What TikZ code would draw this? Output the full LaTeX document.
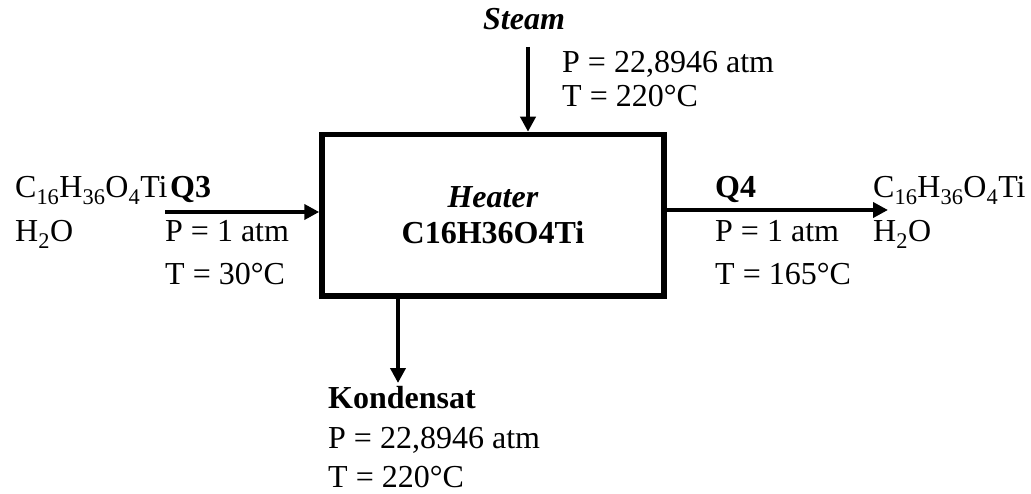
\documentclass[tikz,border=0pt]{standalone}
\usepackage{fontspec}
\setmainfont{Liberation Serif}
\usepackage{tikz}
\usetikzlibrary{arrows.meta}

\begin{document}
\begin{tikzpicture}[x=1pt, y=-1pt,
    unit/.style={rectangle, draw=black, line width=5.5pt, minimum width=342pt,
                 minimum height=161.5pt, align=center, font=\fontsize{32}{36}\selectfont},
    lbl/.style={anchor=base west, inner sep=0pt, font=\fontsize{32}{38}\selectfont},
    arr/.style={-{Triangle[length=15pt, width=15pt]}, line width=4pt, black}]
\useasboundingbox (0,0) rectangle (1031,494);
\node[unit] (heater) at (493,215.25) {\textbf{\textit{Heater}}\\\textbf{C16H36O4Ti}};
\node[lbl] (inform) at (15,198) {C\textsubscript{16}H\textsubscript{36}O\textsubscript{4}Ti};
\node[lbl] (inwater) at (15,242) {H\textsubscript{2}O};
\node[lbl] (qthree) at (170,198) {\textbf{Q3}};
\node[lbl] (inp) at (165,242) {P = 1 atm};
\node[lbl] (int) at (165,285) {T = 30°C};
\node[lbl] (qfour) at (715,198) {\textbf{Q4}};
\node[lbl] (outp) at (715,242) {P = 1 atm};
\node[lbl] (outt) at (715,285) {T = 165°C};
\node[lbl] (outform) at (873,198) {C\textsubscript{16}H\textsubscript{36}O\textsubscript{4}Ti};
\node[lbl] (outwater) at (873,242) {H\textsubscript{2}O};
\node[lbl] (steam) at (483,30) {\textbf{\textit{Steam}}};
\node[lbl] (steamp) at (562,73) {P = 22,8946 atm};
\node[lbl] (steamt) at (562,107) {T = 220°C};
\node[lbl] (kond) at (328,408) {\textbf{Kondensat}};
\node[lbl] (kondp) at (328,448) {P = 22,8946 atm};
\node[lbl] (kondt) at (328,487) {T = 220°C};
\coordinate (q3start) at (165,212);
\coordinate (q4end) at (888,210);
\coordinate (steamstart) at (528,47);
\coordinate (kondend) at (398,383);
\draw[arr] (q3start) -- (q3start -| heater.west);
\draw[arr] (q4end -| heater.east) -- (q4end);
\draw[arr] (steamstart) -- (steamstart |- heater.north);
\draw[arr] (kondend |- heater.south) -- (kondend);
\end{tikzpicture}
\end{document}
